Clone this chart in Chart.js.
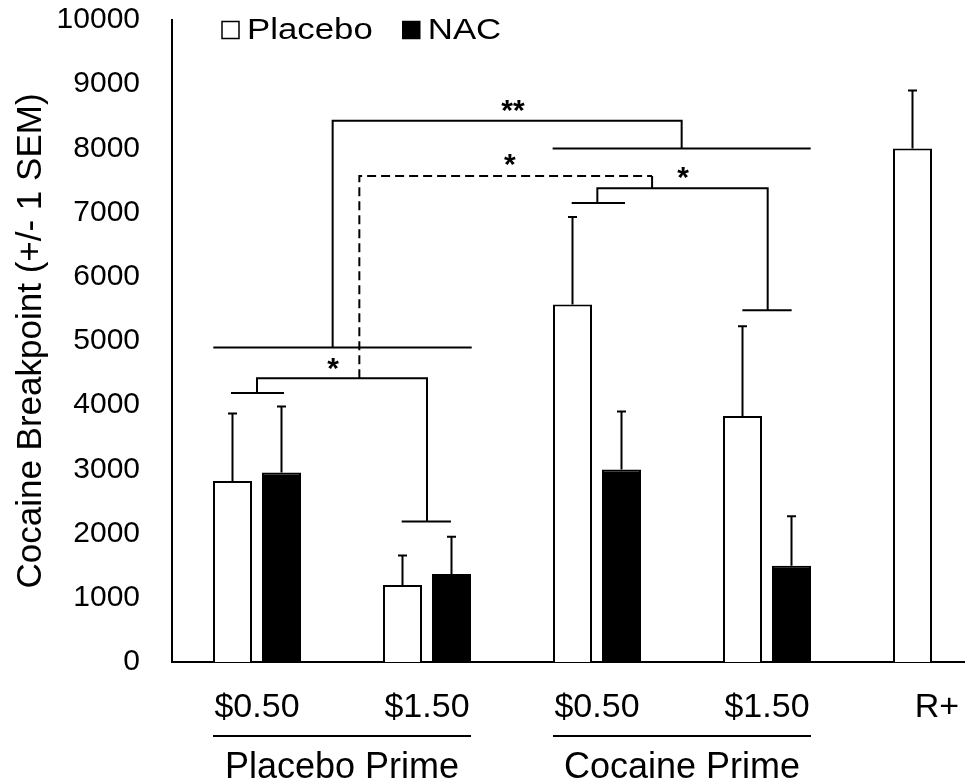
<!DOCTYPE html>
<html><head><meta charset="utf-8">
<script src="https://cdn.jsdelivr.net/npm/chart.js@4"></script>
<style>html,body{margin:0;padding:0;background:#fff;overflow:hidden;width:965px;height:781px}canvas{display:block}</style>
</head><body><canvas id="c" width="1030" height="781"></canvas>
<script>
// ---------- data ----------
const categories = ['$0.50', '$1.50', '$0.50', '$1.50', 'R+'];
const seriesNames = ['Placebo', 'NAC'];
const placeboMeans = [2820, 1200, 5570, 3830, 8000];
const placeboSEM   = [1050, 460, 1360, 1400, 900];
const nacMeans     = [2950, 1370, 3000, 1500, null];
const nacSEM       = [1030, 580, 900, 770, null];
const yMin = 0, yMax = 10000, yStep = 1000;
const yTitle = 'Cocaine Breakpoint (+/- 1 SEM)';
const groupLabels = ['Placebo Prime', 'Cocaine Prime'];
const groupFirst = [0, 2];
const groupLast  = [1, 3];
// significance brackets as polylines of [category index, breakpoint value]
const bracketSolid = [
  [[-0.257, 4900], [1.263, 4900]],
  [[0.445, 4900], [0.445, 8430], [2.498, 8430], [2.498, 8000]],
  [[1.739, 8000], [3.257, 8000]],
  [[-0.153, 4190], [0.159, 4190]],
  [[0, 4190], [0, 4420], [1, 4420], [1, 2190]],
  [[0.851, 2190], [1.141, 2190]],
  [[1.851, 7150], [2.165, 7150]],
  [[2.002, 7150], [2.002, 7380], [3.004, 7380], [3.004, 5480]],
  [[2.855, 5480], [3.145, 5480]],
  [[2.324, 7380], [2.324, 7570]]
];
const bracketDashed = [
  [[0.602, 4420], [0.602, 7570], [2.324, 7570]]
];
const starText = ['**', '*', '*', '*'];
const starCat  = [1.506, 1.488, 2.506, 0.447];
const starVal  = [8660, 7820, 7620, 4640];

// ---------- fonts ----------
function hasFont(name) {
  const c = document.createElement('canvas').getContext('2d');
  c.font = '40px monospace'; const a = c.measureText('$0.50 Placebo Prime').width;
  c.font = '40px "' + name + '", monospace'; const b = c.measureText('$0.50 Placebo Prime').width;
  return Math.abs(a - b) > 0.5;
}
const narrow = hasFont('Liberation Sans Narrow');
const FAM = '"Liberation Sans", Arial, sans-serif';
const xFont = narrow ? {family: '"Liberation Sans Narrow", "Liberation Sans", sans-serif', size: 40}
                     : {family: FAM, size: 34};
const gFont = narrow ? {family: xFont.family, size: 44} : {family: FAM, size: 36};

// ---------- overlay plugin ----------
const overlay = {
  id: 'overlay',
  afterDatasetsDraw(chart) {
    const {ctx, scales: {x, y}} = chart;
    const x0 = x.getPixelForValue(0), dx = x.getPixelForValue(1) - x0;
    const px = u => x0 + u * dx;
    ctx.save();
    ctx.strokeStyle = '#000'; ctx.lineWidth = 2; ctx.lineCap = 'butt';
    // error bars
    [[placeboMeans, placeboSEM], [nacMeans, nacSEM]].forEach((pair, di) => {
      const meta = chart.getDatasetMeta(di);
      meta.data.forEach((el, i) => {
        if (pair[0][i] == null) return;
        const top = y.getPixelForValue(pair[0][i] + pair[1][i]);
        ctx.beginPath();
        ctx.moveTo(el.x, el.y); ctx.lineTo(el.x, top);
        ctx.moveTo(el.x - 4.5, top); ctx.lineTo(el.x + 4.5, top);
        ctx.stroke();
      });
    });
    const poly = (pts) => {
      ctx.beginPath();
      pts.forEach((p, k) => {
        const X = px(p[0]), Y = y.getPixelForValue(p[1]);
        k ? ctx.lineTo(X, Y) : ctx.moveTo(X, Y);
      });
      ctx.stroke();
    };
    ctx.lineJoin = 'miter';
    bracketSolid.forEach(poly);
    ctx.setLineDash([9, 5]);
    bracketDashed.forEach(poly);
    ctx.setLineDash([]);
    ctx.fillStyle = '#000';
    ctx.font = 'bold 30px ' + FAM;
    ctx.textAlign = 'center'; ctx.textBaseline = 'middle';
    starText.forEach((t, i) => ctx.fillText(t, px(starCat[i]), y.getPixelForValue(starVal[i]) + 6));

    // group labels under the axis
    const m0 = chart.getDatasetMeta(0), m1 = chart.getDatasetMeta(1);
    const ca = chart.chartArea;
    ctx.font = gFont.size + 'px ' + gFont.family;
    groupLabels.forEach((g, i) => {
      const l = m0.data[groupFirst[i]].x - m0.data[groupFirst[i]].width / 2;
      const r = m1.data[groupLast[i]].x + m1.data[groupLast[i]].width / 2;
      const ly = ca.bottom + 74;
      ctx.beginPath(); ctx.moveTo(l, ly); ctx.lineTo(r, ly); ctx.stroke();
      ctx.fillText(g, (l + r) / 2, ca.bottom + 106);
    });

    // legend
    let lx = ca.left + 50; const ly = ca.top + 10;
    chart.data.datasets.forEach((ds, i) => {
      ctx.fillStyle = ds.backgroundColor; ctx.strokeStyle = '#000'; ctx.lineWidth = 1.5;
      ctx.fillRect(lx, ly - 8.5, 17, 17); ctx.strokeRect(lx, ly - 8.5, 17, 17);
      lx += 25;
      ctx.fillStyle = '#000';
      ctx.font = '29px ' + FAM; ctx.textAlign = 'left';
      const w = ctx.measureText(ds.label).width * 1.2;
      ctx.save(); ctx.translate(lx, ly + 1); ctx.scale(1.2, 1); ctx.fillText(ds.label, 0, 0); ctx.restore();
      lx += w + 30;
    });
    ctx.restore();
  }
};

new Chart(document.getElementById('c'), {
  type: 'bar',
  data: {
    labels: categories,
    datasets: [
      {label: seriesNames[0], data: placeboMeans, backgroundColor: '#ffffff', borderColor: '#000000', borderWidth: 2},
      {label: seriesNames[1], data: nacMeans, backgroundColor: '#000000', borderColor: '#000000', borderWidth: 2}
    ]
  },
  options: {
    responsive: false, animation: false, devicePixelRatio: 1,
    layout: {padding: {top: 20, right: 8, left: 0, bottom: 0}},
    datasets: {bar: {categoryPercentage: 0.5765, barPercentage: 0.796}},
    plugins: {legend: {display: false}, tooltip: {enabled: false}},
    scales: {
      x: {
        grid: {display: false, drawTicks: false},
        border: {display: true, color: '#000', width: 2},
        ticks: {color: '#000', font: xFont, padding: 25, maxRotation: 0},
        afterFit: s => { s.height = 119; }
      },
      y: {
        min: yMin, max: yMax,
        grid: {display: false, drawTicks: true, tickLength: 30},
        border: {display: true, color: '#000', width: 2},
        ticks: {stepSize: yStep, color: '#000', font: {family: FAM, size: 30}, padding: 2,
                callback: v => String(v)},
        title: {display: true, text: yTitle, color: '#000', font: {family: FAM, size: 35}, padding: {top: 10, bottom: 0}},
        afterFit: s => { s.width = 172; }
      }
    }
  },
  plugins: [overlay]
});
</script></body></html>
